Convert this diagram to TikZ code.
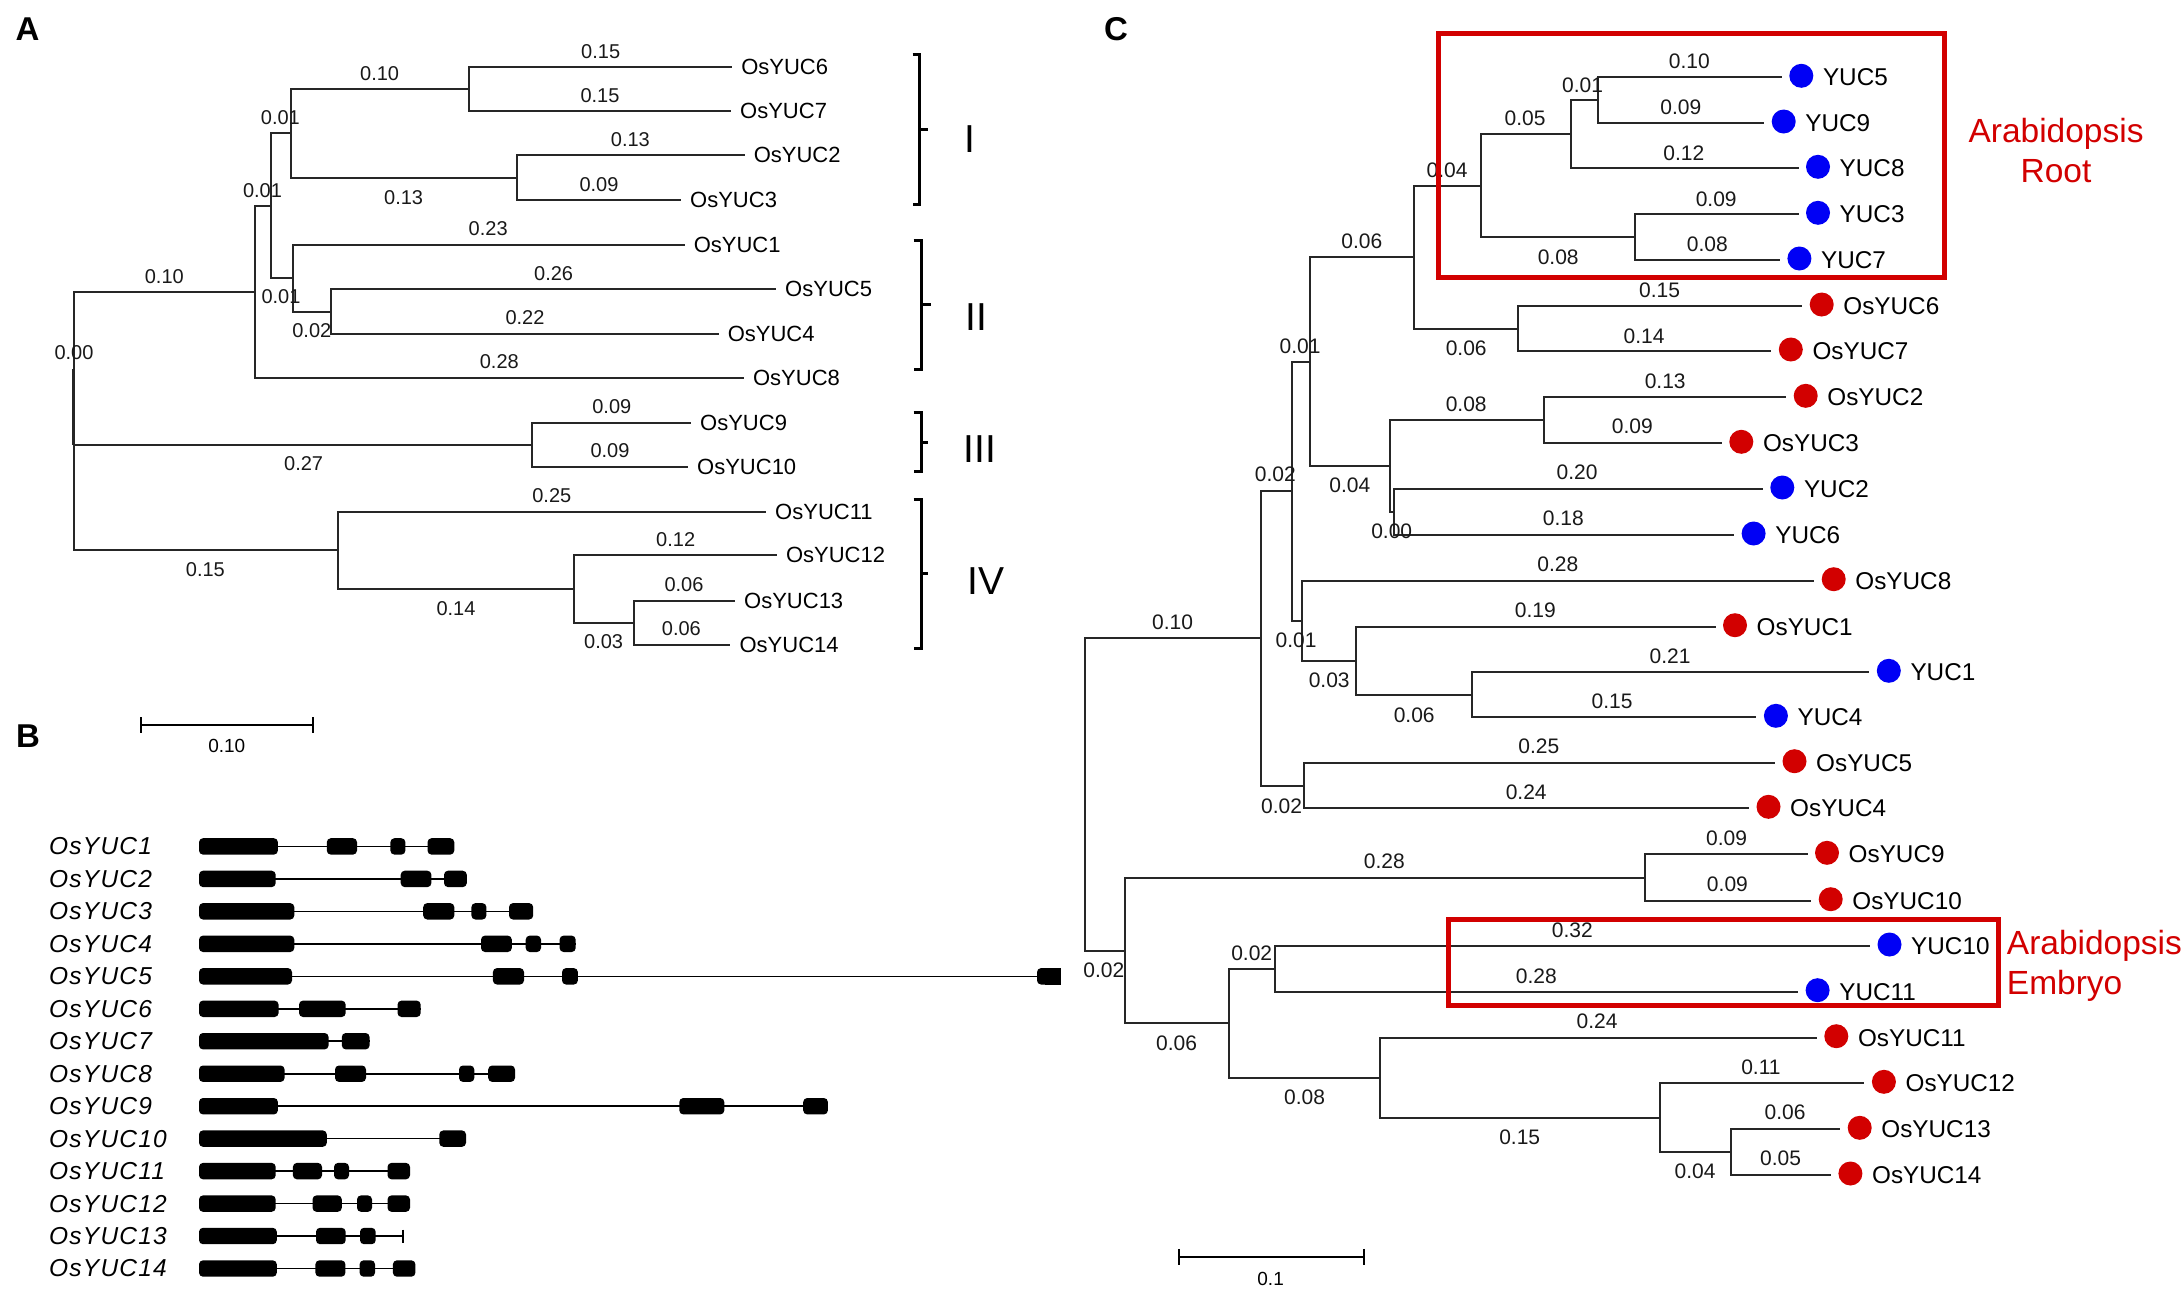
\documentclass[tikz,border=0pt]{standalone}
\usepackage{fontspec}
\setmainfont{Liberation Sans}
\newfontfamily\genefont[LetterSpace=5]{Liberation Sans}
\definecolor{cred}{RGB}{210,0,0}
\definecolor{cblue}{RGB}{0,0,245}
\newcommand\genexons[2]{\foreach \ea/\eb in {#2} {\fill[exon] (\ea,#1-8.2) rectangle (\eb,#1+8.2);}}
\tikzset{
 tr/.style={line width=2pt, draw=black!85},
 blA/.style={font=\fontsize{20}{20}\selectfont, inner sep=0pt, text=black!90},
 blC/.style={font=\fontsize{21}{21}\selectfont, inner sep=0pt, text=black!90},
 lfA/.style={font=\fontsize{22}{22}\selectfont, inner sep=0pt, anchor=west},
 lfC/.style={font=\fontsize{24.3}{24.3}\selectfont, inner sep=0pt, anchor=west},
 dotr/.style={circle, fill=cred, minimum size=24pt, inner sep=0pt},
 dotb/.style={circle, fill=cblue, minimum size=24pt, inner sep=0pt},
 brk/.style={line width=3pt, draw=black},
 rn/.style={font=\fontsize{39}{39}\selectfont, inner sep=0pt},
 panel/.style={font=\fontsize{33}{33}\selectfont\bfseries, inner sep=0pt},
 exon/.style={fill=black, rounded corners=4pt},
 intron/.style={line width=1.6pt},
 gl/.style={font=\fontsize{24.5}{24.5}\selectfont\genefont\itshape, inner sep=0pt, anchor=west},
 redbox/.style={draw=cred, line width=5pt},
 redlab/.style={font=\fontsize{33.5}{33.5}\selectfont, text=cred, inner sep=0pt},
 sbar/.style={line width=2pt},
 sblab/.style={font=\fontsize{19}{19}\selectfont, inner sep=0pt},
}
\begin{document}
\begin{tikzpicture}[x=1pt,y=-1pt]
\fill[white] (0,0) rectangle (2184,1291);
\useasboundingbox (0,0) rectangle (2184,1291);

% ---------------- panel labels
\node[panel] (pA) at (27.5,29.6) {A};
\node[panel] (pB) at (28,736.5) {B};
\node[panel] (pC) at (1116,29) {C};

% ---------------- panel A tree
\coordinate (aR) at (74,421);
\coordinate (aN1) at (254.6,292);
\coordinate (aN2) at (271.4,205.8);
\coordinate (aN3) at (291,133.4);
\coordinate (aN4) at (469,89.3);
\coordinate (aN5) at (516.8,177.75);
\coordinate (aN6) at (292.9,278.25);
\coordinate (aN7) at (331.4,311.5);
\coordinate (aN8) at (532,444.9);
\coordinate (aN9) at (337.5,550.3);
\coordinate (aN10) at (574.3,588.9);
\coordinate (aN11) at (634,622.7);
\foreach \nm/\x/\y in {OsYUC6/732.1/67.2, OsYUC7/731/111.4, OsYUC2/744.6/155.2, OsYUC3/681/200.3,
  OsYUC1/684.6/245, OsYUC5/776/289.2, OsYUC4/718.6/333.9, OsYUC8/743.9/378.1, OsYUC9/691/422.8,
  OsYUC10/688/467, OsYUC11/766/511.7, OsYUC12/776.8/555.1, OsYUC13/735/600.6, OsYUC14/730.4/644.8}
{\coordinate (a\nm) at (\x,\y); \node[lfA] (at\nm) at (\x+9,\y) {\nm};}
\foreach \p/\q in {R/N1, R/N8, R/N9, N1/N2, N1/OsYUC8, N2/N3, N2/N6, N3/N4, N3/N5, N4/OsYUC6, N4/OsYUC7,
  N5/OsYUC2, N5/OsYUC3, N6/OsYUC1, N6/N7, N7/OsYUC5, N7/OsYUC4, N8/OsYUC9, N8/OsYUC10,
  N9/OsYUC11, N9/N10, N10/OsYUC12, N10/N11, N11/OsYUC13, N11/OsYUC14}
{\draw[tr] (a\p) |- (a\q);}
\coordinate (aZ1) at (73.6,368.6);
\coordinate (aZ2) at (73.6,444.5);
\draw[line width=3pt, black!85] (aZ1) -- (aZ2);
\foreach \x/\y/\t [count=\n] in {164.3/276.2/0.10, 74/352.6/0.00, 262.5/190.8/0.01, 499.3/362.1/0.28,
  280.4/118/0.01, 281/297/0.01, 379.6/73.7/0.10, 403.6/197.3/0.13, 600.7/51.2/0.15, 600/95.4/0.15,
  630.4/139.6/0.13, 599/184.3/0.09, 488.2/228.5/0.23, 311.8/330.9/0.02, 553.6/273.2/0.26,
  525/317.9/0.22, 303.6/464/0.27, 611.8/406.3/0.09, 610/451/0.09, 205.4/569.4/0.15,
  551.8/495.7/0.25, 456/608.4/0.14, 675.7/539.9/0.12, 603.6/641.8/0.03, 684/584.6/0.06, 681.4/628.8/0.06}
{\node[blA] (aB\n) at (\x,\y) {\t};}

% brackets
\coordinate (bI1) at (912.5,54.2);  \coordinate (bI2) at (919.6,54.2);
\coordinate (bI3) at (919.6,204.7); \coordinate (bI4) at (912.5,204.7);
\coordinate (bIm) at (919.6,129.2); \coordinate (bIt) at (927.5,129.2);
\draw[brk] (bI1) -- (bI2) -- (bI3) -- (bI4); \draw[brk] (bIm) -- (bIt);
\coordinate (bII1) at (913.5,240.7);  \coordinate (bII2) at (921.4,240.7);
\coordinate (bII3) at (921.4,369.9); \coordinate (bII4) at (913.5,369.9);
\coordinate (bIIm) at (921.4,304.9); \coordinate (bIIt) at (931,304.9);
\draw[brk] (bII1) -- (bII2) -- (bII3) -- (bII4); \draw[brk] (bIIm) -- (bIIt);
\coordinate (bIII1) at (913.5,412);  \coordinate (bIII2) at (921.4,412);
\coordinate (bIII3) at (921.4,471.4); \coordinate (bIII4) at (913.5,471.4);
\coordinate (bIIIm) at (921.4,442.3); \coordinate (bIIIt) at (927.5,442.3);
\draw[brk] (bIII1) -- (bIII2) -- (bIII3) -- (bIII4); \draw[brk] (bIIIm) -- (bIIIt);
\coordinate (bIV1) at (913.5,499.6);  \coordinate (bIV2) at (921.4,499.6);
\coordinate (bIV3) at (921.4,648.3); \coordinate (bIV4) at (913.5,648.3);
\coordinate (bIVm) at (921.4,573.7); \coordinate (bIVt) at (927.5,573.7);
\draw[brk] (bIV1) -- (bIV2) -- (bIV3) -- (bIV4); \draw[brk] (bIVm) -- (bIVt);
\node[rn] (rI) at (969.6,138.8) {I};
\node[rn] (rII) at (976.8,316.6) {II};
\node[rn] (rIII) at (980,448.8) {III};
\node[rn] (rIV) at (985.7,581.1) {IV};

% scale bar A
\coordinate (sa1) at (141,724.8); \coordinate (sa2) at (313.2,724.8);
\draw[sbar] (sa1) -- (sa2);
\draw[sbar] ([yshift=7.8pt]sa1) -- ([yshift=-7.8pt]sa1);
\draw[sbar] ([yshift=7.8pt]sa2) -- ([yshift=-7.8pt]sa2);
\node[sblab] (saL) at (226.8,746.3) {0.10};

% ---------------- panel B genes
\foreach \t/\y [count=\n] in {OsYUC1/846.4, OsYUC2/878.9, OsYUC3/911.3, OsYUC4/943.8, OsYUC5/976.3,
  OsYUC6/1008.8, OsYUC7/1041.2, OsYUC8/1073.7, OsYUC9/1106.2, OsYUC10/1138.6, OsYUC11/1171.1,
  OsYUC12/1203.6, OsYUC13/1236.0, OsYUC14/1268.5}
{\node[gl] (g\n) at (49,\y) {\t};}
% row 1
\draw[intron] (199,846.4) -- (454.3,846.4);
\genexons{846.4}{199/277.9, 326.8/357, 390.4/405.4, 427.5/454.3}
\draw[intron] (199,878.9) -- (466.8,878.9);
\genexons{878.9}{199/275.7, 400.7/431.4, 444/466.8}
\draw[intron] (199,911.3) -- (533.2,911.3);
\genexons{911.3}{199/294.3, 423.2/454.3, 471.4/486.4, 509/533.2}
\draw[intron] (199,943.8) -- (575.7,943.8);
\genexons{943.8}{199/294.3, 481/511.8, 525.7/541, 559.6/575.7}
\draw[intron] (199,976.3) -- (1061.4,976.3);
\genexons{976.3}{199/292, 492.9/524, 562/577.9, 1037/1054}
\fill (1045,968.1) rectangle (1061.4,984.5);
\draw[intron] (199,1008.8) -- (420.7,1008.8);
\genexons{1008.8}{199/278.6, 299/345.7, 397.5/420.7}
\draw[intron] (199,1041.2) -- (369.6,1041.2);
\genexons{1041.2}{199/328.6, 341.8/369.6}
\draw[intron] (199,1073.7) -- (515,1073.7);
\genexons{1073.7}{199/284.6, 335/366, 459/474.3, 488.2/515}
\draw[intron] (199,1106.2) -- (827.9,1106.2);
\genexons{1106.2}{199/277.9, 679.3/724.3, 803.2/827.9}
\draw[intron] (199,1138.6) -- (466,1138.6);
\genexons{1138.6}{199/326.8, 439.3/466}
\draw[intron] (199,1171.1) -- (410,1171.1);
\genexons{1171.1}{199/275.7, 292.9/322, 334/349, 387.5/410}
\draw[intron] (199,1203.6) -- (410,1203.6);
\genexons{1203.6}{199/275.7, 312.5/341.8, 357/372, 387.5/410}
\draw[intron] (199,1236.0) -- (402.5,1236.0);
\genexons{1236.0}{199/276.8, 316/345.7, 360/375.7}
\draw[line width=2pt] (402.5,1229.5) -- (402.5,1242.5);
\draw[intron] (199,1268.5) -- (415.4,1268.5);
\genexons{1268.5}{199/276.8, 315.4/345.4, 359.6/375, 392.9/415.4}

% ---------------- panel C tree
\coordinate (cR) at (1084.5,794.4);
\coordinate (cNu) at (1260.8,638.3);
\coordinate (cNl) at (1124.5,950.5);
\coordinate (cNa) at (1291.7,491);
\coordinate (cNb) at (1303.7,785.5);
\coordinate (cNc) at (1309.9,361.7);
\coordinate (cNd) at (1301.5,620.8);
\coordinate (cNe) at (1414.2,257.2);
\coordinate (cNf) at (1389.9,466.2);
\coordinate (cNg) at (1480.8,185.8);
\coordinate (cNh) at (1518.2,328.5);
\coordinate (cNi) at (1570.5,134.3);
\coordinate (cNj) at (1635.4,237.2);
\coordinate (cNk) at (1597.8,100.15);
\coordinate (cNm) at (1544.4,420.3);
\coordinate (cNn) at (1393.5,512);
\coordinate (cNo) at (1356.4,660.8);
\coordinate (cNp) at (1472.4,694.8);
\coordinate (cNq) at (1644.7,877.5);
\coordinate (cNr) at (1229.2,1023.2);
\coordinate (cNs) at (1275.4,968.9);
\coordinate (cNt) at (1380.1,1077.75);
\coordinate (cNv) at (1659.6,1117.75);
\coordinate (cNw) at (1731.1,1152.2);
\foreach \nm/\x/\y/\c in {YUC5/1781.8/77.3/b, YUC9/1764.2/123/b, YUC8/1798.5/168.3/b, YUC3/1798.5/214.3/b,
  YUC7/1779.9/260/b, OsYUC6/1802.2/306/r, OsYUC7/1771.3/351/r, OsYUC2/1786.2/397.3/r, OsYUC3/1721.8/443.3/r,
  YUC2/1762.8/489/b, YUC6/1734.1/535/b, OsYUC8/1814.2/580.7/r, OsYUC1/1715.5/626.7/r, YUC1/1869.3/672.3/b,
  YUC4/1756.4/717.3/b, OsYUC5/1775/762.7/r, OsYUC4/1749/808.3/r, OsYUC9/1807.5/854.3/r, OsYUC10/1811.2/900.7/r,
  YUC10/1870/946/b, YUC11/1798.1/991.7/b, OsYUC11/1816.8/1037.7/r, OsYUC12/1864.4/1083.3/r,
  OsYUC13/1840.2/1129.3/r, OsYUC14/1830.9/1175/r}
{\coordinate (c\nm) at (\x,\y);
 \node[dot\c] (cd\nm) at (\x+19.5,\y-1.5) {};
 \node[lfC] (ct\nm) at (\x+41,\y) {\nm};}
\foreach \p/\q in {R/Nu, R/Nl, Nu/Na, Nu/Nb, Na/Nc, Na/Nd, Nc/Ne, Nc/Nf, Ne/Ng, Ne/Nh, Ng/Ni, Ng/Nj,
  Ni/Nk, Ni/YUC8, Nk/YUC5, Nk/YUC9, Nj/YUC3, Nj/YUC7, Nh/OsYUC6, Nh/OsYUC7, Nf/Nm, Nf/Nn,
  Nm/OsYUC2, Nm/OsYUC3, Nn/YUC2, Nn/YUC6, Nd/OsYUC8, Nd/No, No/OsYUC1, No/Np, Np/YUC1, Np/YUC4,
  Nb/OsYUC5, Nb/OsYUC4, Nl/Nq, Nl/Nr, Nq/OsYUC9, Nq/OsYUC10, Nr/Ns, Nr/Nt, Ns/YUC10, Ns/YUC11,
  Nt/OsYUC11, Nt/Nv, Nv/OsYUC12, Nv/Nw, Nw/OsYUC13, Nw/OsYUC14}
{\draw[tr] (c\p) |- (c\q);}
\foreach \x/\y/\t [count=\n] in {1172.5/622.3/0.10, 1103.8/970/0.02, 1275.4/474.3/0.02, 1281.6/806.7/0.02,
  1300.1/346.7/0.01, 1296.1/640/0.01, 1361.9/241.7/0.06, 1349.9/485.7/0.04, 1447/170/0.04,
  1466.2/348.3/0.06, 1525.1/118.3/0.05, 1558.2/257.3/0.08, 1582.5/85/0.01, 1683.8/153.3/0.12,
  1689.4/61.7/0.10, 1680.8/107.3/0.09, 1716.2/199/0.09, 1707.3/244.3/0.08, 1659.6/290/0.15,
  1644/336/0.14, 1466.2/404.3/0.08, 1665.2/381/0.13, 1632.4/426.7/0.09, 1391.7/531/0.00,
  1577.1/472.3/0.20, 1563.3/518.3/0.18, 1557.8/564.3/0.28, 1329.2/680/0.03, 1535.3/610/0.19,
  1414.2/715/0.06, 1670/656.7/0.21, 1612/701.7/0.15, 1538.9/746.7/0.25, 1526.2/792.7/0.24,
  1384.4/861.7/0.28, 1176.5/1043.3/0.06, 1726.6/838.3/0.09, 1727.4/884.3/0.09, 1251.7/953.3/0.02,
  1304.5/1097.3/0.08, 1572.4/930/0.32, 1536.4/976/0.28, 1597/1021.7/0.24, 1519.7/1137.7/0.15,
  1760.9/1067.7/0.11, 1695/1171.7/0.04, 1785.1/1112.7/0.06, 1780.6/1158.3/0.05}
{\node[blC] (cB\n) at (\x,\y) {\t};}

% red boxes and labels
\coordinate (rb1) at (1438,33); \coordinate (rb2) at (1944.5,277.5);
\draw[redbox] (rb1) rectangle (rb2);
\coordinate (eb1) at (1448,919); \coordinate (eb2) at (1998.5,1005.7);
\draw[redbox] (eb1) rectangle (eb2);
\node[redlab, anchor=base] (rl1) at (2056,142.7) {Arabidopsis};
\node[redlab, anchor=base] (rl2) at (2056,182.7) {Root};
\node[redlab, anchor=base west] (el1) at (2006.7,954.3) {Arabidopsis};
\node[redlab, anchor=base west] (el2) at (2006.7,994) {Embryo};

% scale bar C
\coordinate (sc1) at (1179,1256.7); \coordinate (sc2) at (1364.4,1256.7);
\draw[sbar] (sc1) -- (sc2);
\draw[sbar] ([yshift=7.8pt]sc1) -- ([yshift=-7.8pt]sc1);
\draw[sbar] ([yshift=7.8pt]sc2) -- ([yshift=-7.8pt]sc2);
\node[sblab] (scL) at (1270.6,1279.3) {0.1};
\end{tikzpicture}
\end{document}
